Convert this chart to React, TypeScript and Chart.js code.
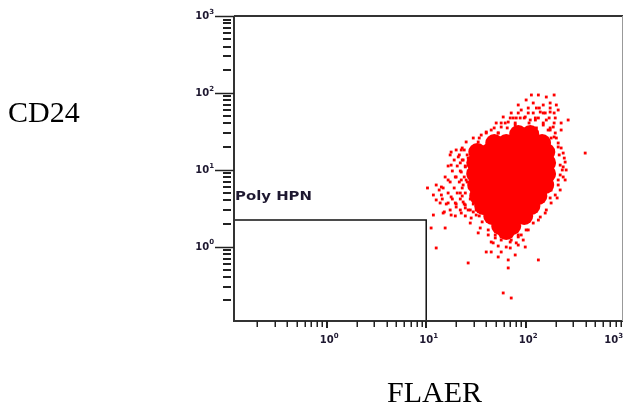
import React, { useEffect, useRef } from 'react';
import { Chart, registerables } from 'chart.js';

Chart.register(...registerables);

// Axis ranges (log scales)
const X_MIN = 0.117;
const X_MAX = 950;
const Y_MIN = 0.108;
const Y_MAX = 1000;

// Tick definitions
const decadeValues = [1, 10, 100, 1000];
const decadeExponents = ['0', '1', '2', '3'];
const minorDecades = [0.1, 1, 10, 100];
const minorMultipliers = [2, 3, 4, 5, 6, 7, 8, 9];

// Axis titles
const xTitle = 'FLAER';
const yTitle = 'CD24';

// Gate "Poly HPN"
const gateLabel = 'Poly HPN';
const gateFlaer = [X_MIN, 10, 10];
const gateCd24 = [2.22, 2.22, Y_MIN];

// Dense core of the population (FLAER, CD24)
const coreFlaer = [
  84.1, 111,
  48.3, 63.7, 84.1, 111, 146,
  32.6, 43.0, 56.7, 74.9, 98.9, 130, 161,
  31.1, 41.0, 54.2, 71.5, 94.4, 125, 164,
  31.1, 41.0, 54.2, 71.5, 94.4, 125, 164,
  31.8, 42.0, 55.4, 73.2, 96.6, 128, 157,
  33.3, 44.0, 58.0, 76.6, 101, 134,
  37.4, 49.4, 65.2, 86.0, 114,
  46.1, 60.8, 80.3, 96.6,
  55.4, 73.2,
  63.7,
];
const coreCd24 = [
  29.2, 29.2,
  22.3, 22.3, 22.3, 22.3, 22.3,
  17.0, 17.0, 17.0, 17.0, 17.0, 17.0, 17.0,
  12.3, 12.3, 12.3, 12.3, 12.3, 12.3, 12.3,
  8.82, 8.82, 8.82, 8.82, 8.82, 8.82, 8.82,
  6.34, 6.34, 6.34, 6.34, 6.34, 6.34, 6.34,
  4.56, 4.56, 4.56, 4.56, 4.56, 4.56,
  3.38, 3.38, 3.38, 3.38, 3.38,
  2.51, 2.51, 2.51, 2.51,
  1.86, 1.86,
  1.60,
];

// Semi-dense fringe around the core (FLAER, CD24)
const fringeFlaer = [
  20.0, 24.1,
  17.4, 21.5, 25.8,
  19.1, 23.0,
  16.6, 20.5, 24.7,
  18.3, 22.0, 26.4,
  15.5, 19.6, 24.1,
  17.4, 21.5, 25.8,
  14.8, 19.1, 23.0, 27.1,
  16.6, 20.5, 24.7,
  14.5, 18.3, 22.0, 27.7,
  15.9, 20.0, 24.1, 29.7,
  17.4, 22.0, 26.4, 31.8,
  19.6, 24.7, 34.1,
  13.5, 13.8, 15.2,
  106, 137, 176,
  84.1, 119, 157, 193,
  69.9, 96.6, 134, 172,
  56.7, 78.4, 108, 150, 193,
  48.2, 65.2, 88.0, 128, 176,
  40.1, 52.9, 71.5, 98.9, 198,
  34.1, 45.0, 59.4,
  227, 244, 233, 249, 222, 207,
  45.0, 52.9, 69.9, 80.3, 94.4,
];
const fringeCd24 = [
  18.1, 18.1,
  15.6, 15.6, 15.6,
  13.4, 13.4,
  11.2, 11.2, 11.2,
  9.65, 9.65, 9.65,
  8.06, 8.06, 8.06,
  6.94, 6.94, 6.94,
  5.80, 5.80, 5.80, 5.80,
  4.99, 4.99, 4.99,
  4.17, 4.17, 4.17, 4.17,
  3.59, 3.59, 3.59, 3.59,
  3.00, 3.00, 3.00, 3.00,
  2.51, 2.51, 2.51,
  5.46, 3.70, 2.83,
  63.6, 63.6, 63.6,
  54.8, 54.8, 54.8, 54.8,
  47.2, 47.2, 47.2, 47.2,
  40.6, 40.6, 40.6, 40.6, 40.6,
  35.0, 35.0, 35.0, 35.0, 35.0,
  30.1, 30.1, 30.1, 30.1, 30.1,
  25.9, 25.9, 25.9,
  19.2, 14.2, 9.94, 7.37, 5.46, 4.30,
  1.15, 1.02, 0.962, 1.12, 1.22,
];

// Scattered events around the core (FLAER, CD24)
const eventFlaer = [
  114, 134, 193, 119, 150, 176, 203, 90.1, 106, 140,
  176, 71.5, 88.0, 111, 125, 161, 198, 267, 50.5, 62.2,
  78.4, 227, 189, 227, 40.1, 52.9, 25.2, 33.3, 42.0, 203,
  212, 396, 17.8, 22.5, 21.0, 238, 249, 17.8, 22.0, 255,
  238, 10.3, 12.6, 14.2, 16.6, 20.0, 22.5, 11.8, 14.2, 17.8,
  22.0, 12.6, 19.6, 16.6, 23.5, 11.8, 14.8, 17.8, 22.5, 27.7,
  34.9, 11.2, 15.5, 33.3, 42.0, 49.4, 56.7, 71.5, 84.1, 47.1,
  63.7, 84.1, 98.9, 56.7, 12.6, 40.1, 45.0, 52.9, 66.7, 78.4,
  26.4, 134, 66.7, 59.4, 71.5, 157, 134, 106, 90.1, 29.7,
  28.3, 20.0, 24.7, 176, 180, 26.4, 24.7, 26.4, 25.2, 238,
  212, 180, 176,
  23.0, 23.5, 22.5, 23.5, 23.0, 24.7, 29.7, 35.7, 45.0, 56.7,
  66.7, 80.3, 98.9, 125, 150, 168, 193, 212, 217, 222,
  222, 212, 198, 180, 161, 140, 119, 101, 84.1, 69.8,
  56.7, 49.4, 42.0, 36.5, 31.8, 27.7,
  84.1, 101, 161, 128, 74.9, 59.4, 212, 150,
];
const eventCd24 = [
  93.9, 93.9, 93.9, 73.9, 69.6, 73.9, 69.6, 59.9, 54.8, 56.4,
  56.4, 54.8, 47.2, 44.4, 47.2, 44.4, 47.2, 44.4, 40.6, 40.6,
  38.2, 40.6, 36.0, 32.9, 31.0, 30.1, 23.0, 23.0, 24.4, 25.9,
  22.3, 16.5, 17.0, 18.1, 14.7, 16.5, 12.6, 11.5, 12.3, 9.94,
  10.9, 5.80, 6.34, 5.97, 7.37, 8.06, 7.37, 4.70, 4.70, 4.43,
  4.99, 4.05, 3.70, 3.70, 3.81, 2.58, 2.74, 2.58, 2.74, 2.03,
  1.75, 1.75, 1.75, 1.51, 1.42, 1.30, 1.34, 1.22, 1.34, 1.12,
  0.99, 1.05, 0.99, 0.853, 0.962, 0.853, 0.853, 0.735, 0.672, 0.780,
  0.614, 0.672, 0.529, 0.250, 0.215, 2.74, 2.22, 1.65, 1.42, 2.83,
  2.36, 3.28, 3.19, 32.9, 25.9, 14.2, 10.9, 9.09, 7.37, 8.06,
  7.37, 5.46, 4.30,
  19.2, 13.4, 9.36, 6.34, 4.56, 3.49, 25.9, 28.3, 32.9, 36.0,
  41.8, 47.2, 48.6, 44.4, 38.2, 32.9, 26.7, 19.8, 15.6, 11.5,
  8.56, 6.34, 4.70, 3.70, 3.00, 2.43, 2.03, 1.65, 1.42, 1.15,
  1.22, 1.42, 1.65, 2.10, 2.58, 3.00,
  69.6, 80.9, 88.4, 63.6, 47.2, 48.6, 59.9, 54.8,
];

const INK = '#1e1830';
const RED = '#ff0000';

const flowAxesPlugin = {
  id: 'flowAxes',
  afterDatasetsDraw(chart: any) {
    const { ctx, chartArea: a } = chart;
    const xs = chart.scales.x;
    const ys = chart.scales.y;
    ctx.save();

    // frame
    ctx.strokeStyle = '#333';
    ctx.lineWidth = 2;
    ctx.beginPath();
    ctx.moveTo(a.left, a.top);
    ctx.lineTo(a.left, a.bottom);
    ctx.lineTo(a.right, a.bottom);
    ctx.stroke();
    ctx.beginPath();
    ctx.moveTo(a.left, a.top);
    ctx.lineTo(a.right, a.top);
    ctx.stroke();
    ctx.strokeStyle = '#999';
    ctx.lineWidth = 1;
    ctx.beginPath();
    ctx.moveTo(a.right - 0.5, a.top);
    ctx.lineTo(a.right - 0.5, a.bottom);
    ctx.stroke();

    // ticks
    ctx.strokeStyle = '#222';
    const minorVals: number[] = [];
    minorDecades.forEach((d) => minorMultipliers.forEach((m) => minorVals.push(d * m)));

    // x ticks
    minorVals.forEach((v) => {
      if (v < X_MIN || v > X_MAX) return;
      const px = Math.round(xs.getPixelForValue(v)) + 0.25;
      ctx.lineWidth = 1.5;
      ctx.beginPath();
      ctx.moveTo(px, a.bottom);
      ctx.lineTo(px, a.bottom + 6);
      ctx.stroke();
    });
    decadeValues.forEach((v) => {
      if (v < X_MIN || v > X_MAX) return;
      const px = Math.round(xs.getPixelForValue(v));
      ctx.lineWidth = 2;
      ctx.beginPath();
      ctx.moveTo(px, a.bottom);
      ctx.lineTo(px, a.bottom + 7);
      ctx.stroke();
    });

    // y ticks
    minorVals.forEach((v) => {
      if (v < Y_MIN || v > Y_MAX) return;
      const py = Math.round(ys.getPixelForValue(v));
      ctx.lineWidth = 2;
      ctx.beginPath();
      ctx.moveTo(a.left - 11, py);
      ctx.lineTo(a.left - 3, py);
      ctx.stroke();
    });
    decadeValues.forEach((v) => {
      if (v < Y_MIN || v > Y_MAX) return;
      const py = Math.round(ys.getPixelForValue(v)) + 0.5;
      ctx.lineWidth = 1.5;
      ctx.beginPath();
      ctx.moveTo(a.left - 19, py);
      ctx.lineTo(a.left, py);
      ctx.stroke();
    });

    // tick labels
    const baseFont = 'bold 10px "DejaVu Sans", Arial, sans-serif';
    const supFont = 'bold 7px "DejaVu Sans", Arial, sans-serif';
    ctx.fillStyle = INK;
    ctx.textBaseline = 'middle';
    decadeValues.forEach((v, i) => {
      ctx.font = baseFont;
      const bw = ctx.measureText('10').width;
      ctx.font = supFont;
      const sw = ctx.measureText(decadeExponents[i]).width;
      // x label
      let cx = xs.getPixelForValue(v);
      const maxCx = chart.width - 1 - sw - bw / 2;
      if (cx > maxCx) cx = maxCx;
      const ly = a.bottom + 19;
      ctx.textAlign = 'center';
      ctx.font = baseFont;
      ctx.fillText('10', cx, ly);
      ctx.textAlign = 'left';
      ctx.font = supFont;
      ctx.fillText(decadeExponents[i], cx + bw / 2, ly - 4);
      // y label
      const py = ys.getPixelForValue(v);
      const right = a.left - 20;
      ctx.textAlign = 'left';
      ctx.font = supFont;
      ctx.fillText(decadeExponents[i], right - sw, py - 4);
      ctx.textAlign = 'right';
      ctx.font = baseFont;
      ctx.fillText('10', right - sw, py + 0.5);
    });

    // gate label
    ctx.font = 'bold 12px "DejaVu Sans", Arial, sans-serif';
    ctx.textAlign = 'left';
    ctx.textBaseline = 'middle';
    ctx.fillStyle = INK;
    const gw = ctx.measureText(gateLabel).width;
    const gx = xs.getPixelForValue(gateFlaer[0]) + 1;
    const gy = ys.getPixelForValue(gateCd24[0]) - 23;
    ctx.save();
    ctx.translate(gx, gy);
    ctx.scale(77 / gw, 1);
    ctx.fillText(gateLabel, 0, 0);
    ctx.restore();

    // axis titles
    ctx.fillStyle = '#000';
    ctx.font = '30px "Liberation Serif", "Times New Roman", serif';
    ctx.textBaseline = 'alphabetic';
    ctx.textAlign = 'left';
    ctx.fillText(yTitle, 8, 122);
    ctx.textAlign = 'center';
    ctx.fillText(xTitle, 434.5, 402);

    ctx.restore();
  },
};

const toPoints = (xs: number[], ys: number[]) => xs.map((x, i) => ({ x, y: ys[i] }));

export default function App() {
  const canvasRef = useRef<HTMLCanvasElement | null>(null);

  useEffect(() => {
    const canvas = canvasRef.current;
    if (!canvas) return;
    const chart = new Chart(canvas, {
      type: 'scatter',
      data: {
        datasets: [
          {
            label: 'gate',
            data: toPoints(gateFlaer, gateCd24),
            showLine: true,
            borderColor: '#111',
            borderWidth: 1.5,
            pointRadius: 0,
            fill: false,
            tension: 0,
          },
          {
            label: 'events',
            data: toPoints(eventFlaer, eventCd24),
            pointStyle: 'rect',
            pointRadius: 2,
            backgroundColor: RED,
            borderWidth: 0,
          },
          {
            label: 'fringe',
            data: toPoints(fringeFlaer, fringeCd24),
            pointStyle: 'rect',
            pointRadius: 2,
            backgroundColor: RED,
            borderWidth: 0,
          },
          {
            label: 'core',
            data: toPoints(coreFlaer, coreCd24),
            pointStyle: 'circle',
            pointRadius: 9,
            backgroundColor: RED,
            borderWidth: 0,
          },
        ],
      },
      options: {
        animation: false,
        responsive: false,
        devicePixelRatio: 1,
        events: [],
        layout: { autoPadding: false, padding: { left: 234, right: 1, top: 16, bottom: 87 } },
        plugins: {
          legend: { display: false },
          tooltip: { enabled: false },
          title: { display: false },
        },
        scales: {
          x: { type: 'logarithmic', min: X_MIN, max: X_MAX, display: false },
          y: { type: 'logarithmic', min: Y_MIN, max: Y_MAX, display: false },
        },
      },
      plugins: [flowAxesPlugin],
    });
    return () => chart.destroy();
  }, []);

  return (
    <div style={{ position: 'absolute', left: 0, top: 0, width: 624, height: 408, background: '#fff' }}>
      <canvas ref={canvasRef} width={624} height={408} style={{ display: 'block' }} />
    </div>
  );
}
